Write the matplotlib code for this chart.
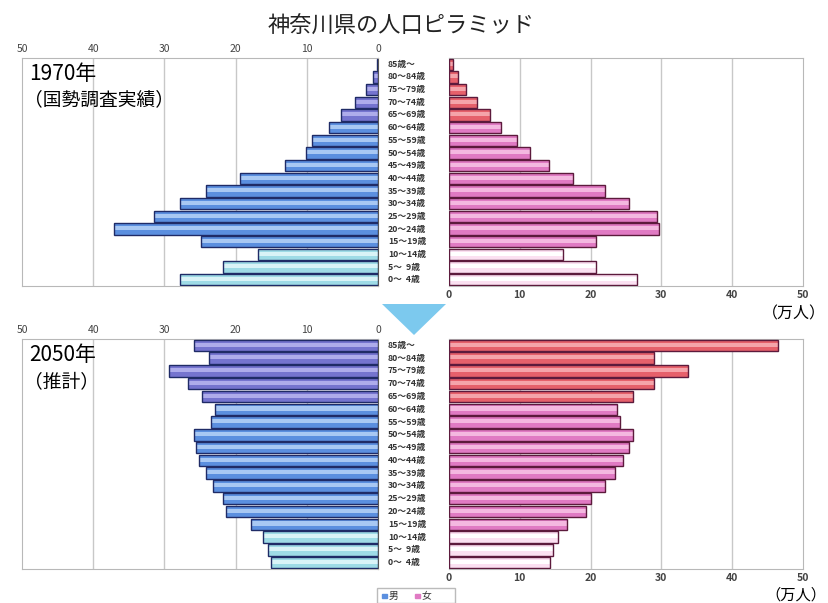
import numpy as np
import matplotlib.pyplot as plt
from matplotlib.patches import Polygon, Rectangle
import matplotlib.transforms as mtransforms

plt.rcParams['font.family'] = ['Noto Sans CJK JP', 'DejaVu Sans']

# age groups, youngest first (drawn bottom to top)
ages = ['0～  4歳', '5～  9歳', '10～14歳', '15～19歳', '20～24歳', '25～29歳',
        '30～34歳', '35～39歳', '40～44歳', '45～49歳', '50～54歳', '55～59歳',
        '60～64歳', '65～69歳', '70～74歳', '75～79歳', '80～84歳', '85歳～']

# population (万人)
male_1970 = [27.8, 21.8, 16.9, 24.9, 37.1, 31.4, 27.8, 24.2, 19.4, 13.0,
             10.1, 9.2, 6.9, 5.2, 3.3, 1.7, 0.7, 0.2]
female_1970 = [26.5, 20.8, 16.1, 20.8, 29.6, 29.4, 25.4, 22.0, 17.5, 14.1,
               11.4, 9.6, 7.4, 5.8, 4.0, 2.4, 1.3, 0.6]
male_2050 = [15.0, 15.5, 16.1, 17.8, 21.3, 21.7, 23.2, 24.2, 25.1, 25.5,
             25.9, 23.4, 22.9, 24.7, 26.7, 29.4, 23.8, 25.9]
female_2050 = [14.2, 14.7, 15.4, 16.7, 19.3, 20.1, 22.0, 23.4, 24.6, 25.4,
               26.0, 24.1, 23.7, 26.0, 29.0, 33.7, 28.9, 46.5]

xticks = [0, 10, 20, 30, 40, 50]

# colour per age band: 0-14, 15-64, 65+
band = np.array([0] * 3 + [1] * 10 + [2] * 5)
male_fill = ['#9edbe6', '#5b8fdf', '#7574cf']
male_hi = ['#d9f3f7', '#a8c8f3', '#aeaceb']
female_fill = ['#fbe0f1', '#e07ac3', '#e6606b']
female_hi = ['#ffffff', '#f4b8e0', '#f5a4aa']
male_edge = '#1f2b66'
female_edge = '#5c1a3c'

W, H = 829, 603
fig = plt.figure(figsize=(W / 100, H / 100), dpi=100)


def box(x0, y0, x1, y1):
    return [x0 / W, 1 - y1 / H, (x1 - x0) / W, (y1 - y0) / H]


def draw_side(ax, vals, fills, his, edge):
    y = np.arange(len(vals))
    vals = np.array(vals)
    fc = [fills[b] for b in band]
    hc = [his[b] for b in band]
    ax.barh(y, vals, height=0.9, color=fc, linewidth=0, zorder=2)
    ax.barh(y + 0.06, vals, height=0.32, color=hc, linewidth=0, zorder=3)
    ax.barh(y, vals, height=0.9, fill=False, edgecolor=edge, linewidth=1.0, zorder=4)
    ax.set_xlim(0, 50)
    ax.set_ylim(-0.5, len(vals) - 0.5)
    ax.set_yticks([])
    ax.set_xticks(xticks)
    for x in xticks[1:-1]:
        ax.axvline(x, color='#c8c8c8', lw=1, zorder=1)
    for s in ax.spines.values():
        s.set_color('#b8b8b8')
    ax.tick_params(length=0, labelsize=7.5, labelcolor='#444444', pad=3)
    for t in ax.get_xticklabels():
        t.set_fontweight('bold')


def panel(y0, y1, males, females, year, note):
    axl = fig.add_axes(box(22, y0, 378, y1))
    axr = fig.add_axes(box(449, y0, 803, y1))
    draw_side(axl, males, male_fill, male_hi, male_edge)
    draw_side(axr, females, female_fill, female_hi, female_edge)
    axl.invert_xaxis()
    axl.xaxis.tick_top()
    axl.spines['right'].set_color('#555555')
    trans = mtransforms.blended_transform_factory(axr.transAxes, axr.transData)
    for i, lab in enumerate(ages):
        axr.text(-0.172, i, lab, transform=trans, ha='left', va='center',
                 fontsize=6.3, fontweight='bold', color='#333333')
    axl.text(0.02, 0.93, year, transform=axl.transAxes, fontsize=15,
             va='center', ha='left')
    axl.text(0.005, 0.815, note, transform=axl.transAxes, fontsize=13.5,
             va='center', ha='left')
    return axl, axr


panel(58, 286, male_1970, female_1970, '1970年', '（国勢調査実績）')
panel(339, 569, male_2050, female_2050, '2050年', '（推計）')

fig.text(401 / W, 1 - 26 / H, '神奈川県の人口ピラミッド', fontsize=16,
         ha='center', va='center', color='#222222')
fig.text(826 / W, 1 - 314 / H, '（万人）', fontsize=11.5, ha='right', va='center')
fig.text(826 / W, 1 - 595 / H, '（万人）', fontsize=11, ha='right', va='center')

# arrow between the two pyramids
tri = Polygon([[382 / W, 1 - 304 / H], [446 / W, 1 - 304 / H], [414 / W, 1 - 335 / H]],
              closed=True, transform=fig.transFigure, color='#7cc9ee', lw=0)
fig.patches.append(tri)

# legend box
fig.patches.append(Rectangle((377 / W, 1 - 603 / H), 78 / W, 15 / H,
                             transform=fig.transFigure, fill=False,
                             edgecolor='#bbbbbb', lw=1))
fig.patches.append(Rectangle((382 / W, 1 - 598 / H), 5 / W, 4 / H,
                             transform=fig.transFigure, color='#5b8fdf'))
fig.patches.append(Rectangle((415 / W, 1 - 598 / H), 5 / W, 4 / H,
                             transform=fig.transFigure, color='#e07ac3'))
fig.text(389 / W, 1 - 596 / H, '男', fontsize=7, va='center', ha='left', color='#333333')
fig.text(422 / W, 1 - 596 / H, '女', fontsize=7, va='center', ha='left', color='#333333')

fig.savefig('out.png', dpi=100)
